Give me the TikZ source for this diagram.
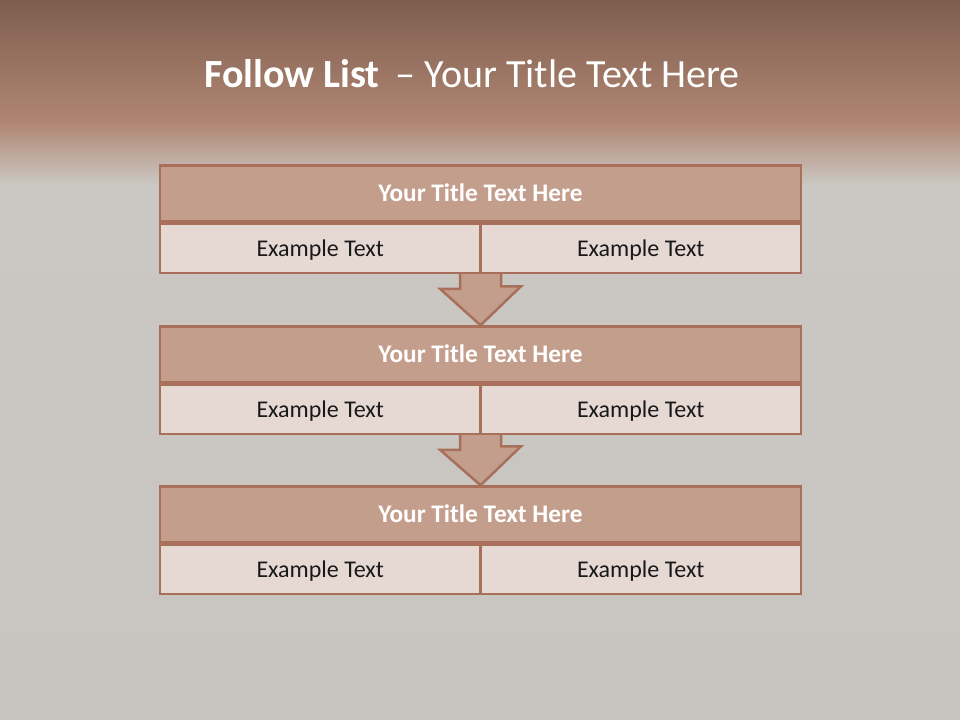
\documentclass[tikz,border=0pt]{standalone}
\usepackage{fontspec}
\setmainfont{Carlito}
\usepackage{tikz}
\usetikzlibrary{positioning}

\definecolor{bandtop}{HTML}{7E5E50}
\definecolor{bandbot}{HTML}{B08672}
\definecolor{slidegray}{HTML}{CBC7C3}
\definecolor{slidelow}{HTML}{C8C4C0}
\definecolor{boxline}{HTML}{A8705A}
\definecolor{boxhead}{HTML}{C49E8C}
\definecolor{boxcell}{HTML}{E6D9D4}

\tikzset{
    headbox/.style={draw=boxline, fill=boxhead, line width=2.5bp, inner sep=0pt,
        minimum width=641bp, minimum height=56bp, text=white,
        font=\fontsize{25.3bp}{30bp}\selectfont\bfseries, text height=16.3bp, text depth=0pt},
    cellbox/.style={draw=boxline, fill=boxcell, line width=2.5bp, inner sep=0pt,
        minimum width=320.5bp, minimum height=49bp, text=black!90,
        font=\fontsize{24bp}{28bp}\selectfont, text height=15.5bp, text depth=0pt},
    flowarrow/.style={draw=boxline, fill=boxhead, line width=2.5bp, line join=miter},
    pagetitle/.style={text=white, inner sep=0pt, font=\fontsize{40bp}{48bp}\selectfont}
}

\begin{document}
\begin{tikzpicture}[x=1bp, y=-1bp]
        \useasboundingbox (0,0) rectangle (960,720);
        % slide background
        \shade[top color=bandtop, bottom color=bandbot] (0,0) rectangle (960,122);
        \shade[top color=bandbot, bottom color=slidegray] (0,122) rectangle (960,185);
        \shade[top color=slidegray, bottom color=slidelow] (0,185) rectangle (960,720);

        \node[pagetitle, anchor=base] (title) at (472,88) {\textbf{Follow List}\hspace*{16bp}– Your Title Text Here};

        \node[headbox] (t1) at (480.5,193.5) {Your Title Text Here};
        \node[headbox] (t2) at (480.5,354.5) {Your Title Text Here};
        \node[headbox] (t3) at (480.5,514.5) {Your Title Text Here};

        % arrows go under the boxes
        \draw[flowarrow] ([xshift=-20.5bp]t1.south) ++(0,49) -- ++(0,17) -- ++(-20,0)
            -- (t2.north) -- ++(40.5,-39) -- ++(-20,0) -- ++(0,-17) -- cycle;
        \draw[flowarrow] ([xshift=-20.5bp]t2.south) ++(0,49) -- ++(0,17) -- ++(-20,0)
            -- (t3.north) -- ++(40.5,-39) -- ++(-20,0) -- ++(0,-17) -- cycle;

        \node[headbox] at (t1) {Your Title Text Here};
        \node[cellbox] (a1) [below right=0pt of t1.south west] {Example Text};
        \node[cellbox] (b1) [below left=0pt of t1.south east] {Example Text};

        \node[headbox] at (t2) {Your Title Text Here};
        \node[cellbox] (a2) [below right=0pt of t2.south west] {Example Text};
        \node[cellbox] (b2) [below left=0pt of t2.south east] {Example Text};

        \node[headbox] at (t3) {Your Title Text Here};
        \node[cellbox] (a3) [below right=0pt of t3.south west] {Example Text};
        \node[cellbox] (b3) [below left=0pt of t3.south east] {Example Text};
\end{tikzpicture}
\end{document}
